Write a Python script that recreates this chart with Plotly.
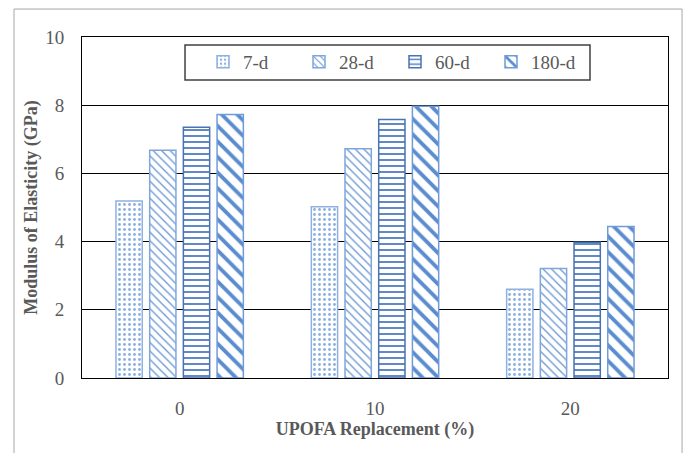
import plotly.graph_objects as go

# UPOFA replacement levels (%) on the x axis
replacement = ["0", "10", "20"]

# Modulus of elasticity (GPa) at each curing age
age_labels = ["7-d", "28-d", "60-d", "180-d"]
e_7d = [5.19, 5.02, 2.60]
e_28d = [6.68, 6.72, 3.21]
e_60d = [7.35, 7.58, 3.98]
e_180d = [7.73, 7.97, 4.44]
series = [e_7d, e_28d, e_60d, e_180d]

# hatch style for each age
shapes = [".", "\\", "-", "\\"]
sizes = [5, 6, 6, 11]
solidity = [0.25, 0.22, 0.3, 0.35]
fg_colors = ["#8AAFE0", "#6A97D4", "#4F7CC0", "#5B8CD0"]
edge_colors = ["#8EB1E2", "#7FA6DC", "#4A72B0", "#6F9BD6"]

TEXT = "#595959"
SERIF = "Liberation Serif, Times New Roman, serif"

fig = go.Figure()
for name, vals, shp, sz, sol, fg, edge in zip(
        age_labels, series, shapes, sizes, solidity, fg_colors, edge_colors):
    fig.add_trace(go.Bar(
        x=replacement, y=vals, name=name,
        marker=dict(
            color="white",
            line=dict(color=edge, width=1.5),
            pattern=dict(shape=shp, size=sz, solidity=sol,
                         fgcolor=fg, bgcolor="white", fillmode="replace"),
        ),
    ))

fig.update_layout(
    width=687, height=453,
    margin=dict(l=82, r=19, t=37, b=75, autoexpand=False),
    paper_bgcolor="white", plot_bgcolor="white",
    barmode="group", bargap=0.31, bargroupgap=0.22,
    font=dict(family=SERIF, color=TEXT, size=19),
    showlegend=True,
    legend=dict(
        orientation="h", x=0.2065, xanchor="left", y=0.927, yanchor="middle",
        bgcolor="rgba(0,0,0,0)", borderwidth=0,
        font=dict(family=SERIF, size=19, color=TEXT),
        entrywidth=51, itemwidth=30, traceorder="normal",
    ),
    xaxis=dict(
        showline=True, linecolor="black", linewidth=1, mirror=True,
        showgrid=False, ticks="", ticklabelstandoff=13,
        tickfont=dict(size=19, color=TEXT),
        title=dict(text="<b>UPOFA Replacement (%)</b>", standoff=4,
                   font=dict(size=18, color=TEXT)),
    ),
    yaxis=dict(
        range=[0, 10], dtick=2, tick0=0,
        showline=True, linecolor="black", linewidth=1, mirror=True,
        showgrid=True, gridcolor="black", gridwidth=1,
        zeroline=True, zerolinecolor="black", zerolinewidth=1,
        ticks="", ticklabelstandoff=13,
        tickfont=dict(size=19, color=TEXT),
        title=dict(text="<b>Modulus of Elasticity (GPa)</b>", standoff=2,
                   font=dict(size=18, color=TEXT)),
    ),
    shapes=[
        # outer chart frame
        dict(type="rect", xref="paper", yref="paper",
             x0=-0.116, x1=1.024, y0=-0.3, y1=1.082,
             line=dict(color="#A6A6A6", width=1),
             fillcolor="rgba(0,0,0,0)", layer="below"),
        # legend frame
        dict(type="rect", xref="paper", yref="paper",
             x0=0.1758, x1=0.8669, y0=0.874, y1=0.9765,
             line=dict(color="#404040", width=1.5),
             fillcolor="white", layer="above"),
    ],
)

fig.write_html("out.html")
